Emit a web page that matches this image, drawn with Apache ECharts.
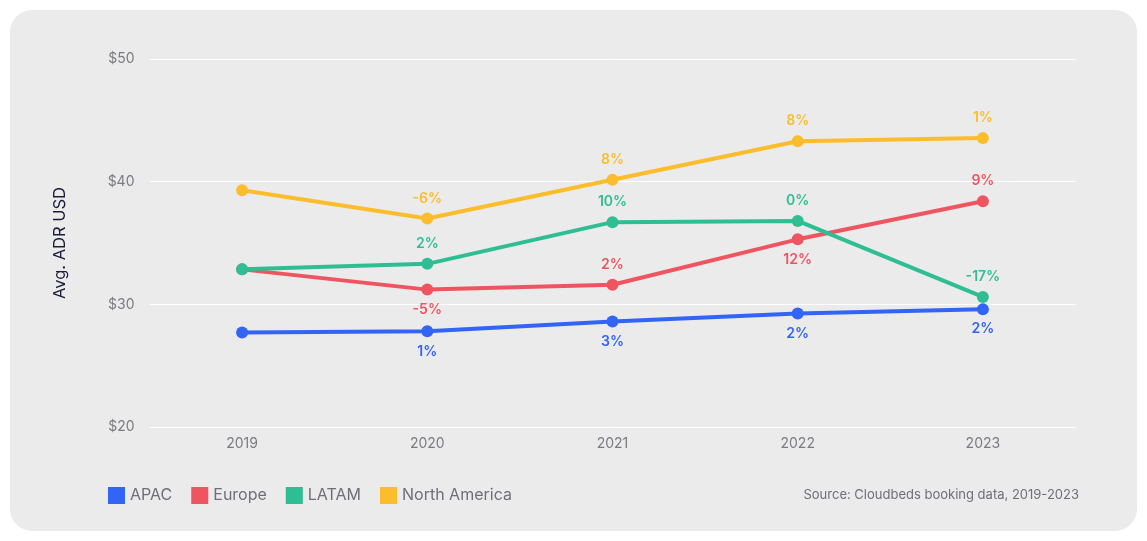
<!DOCTYPE html>
<html><head><meta charset="utf-8">
<script src="https://cdn.jsdelivr.net/npm/echarts@6/dist/echarts.min.js"></script>
<style>
html,body{margin:0;padding:0;background:#fff;}
#card{position:absolute;left:10px;top:10px;width:1127px;height:521px;background:#ebebeb;border-radius:22px;}
#chart{position:absolute;left:0;top:0;width:1147px;height:541px;}
</style></head>
<body>
<div id="card"></div>
<div id="chart"></div>
<script>
const categories = ['2019','2020','2021','2022','2023'];
const apac = [27.7, 27.8, 28.6, 29.25, 29.6];
const europe = [32.85, 31.2, 31.6, 35.3, 38.4];
const latam = [32.85, 33.3, 36.7, 36.8, 30.6];
const northAmerica = [39.3, 37.0, 40.15, 43.3, 43.55];
const apacPct = ['', '1%', '3%', '2%', '2%'];
const europePct = ['', '-5%', '2%', '12%', '9%'];
const latamPct = ['', '2%', '10%', '0%', '-17%'];
const naPct = ['', '-6%', '8%', '8%', '1%'];
const yTicks = [20, 30, 40, 50];

const FONT = 'Inter, "Open Sans", sans-serif';
const colors = {APAC:'#3264f6', Europe:'#ef5560', LATAM:'#2fbe93', 'North America':'#fbbd2b'};

function mk(name, vals, pcts, positions){
  return {
    name, type:'line', data: vals.map((v,i)=>({
      value:v,
      label:{show: pcts[i] !== '', formatter: pcts[i], position: positions[i]}
    })),
    symbol:'circle', symbolSize:12,
    lineStyle:{width:4, color:colors[name]},
    itemStyle:{color:colors[name]},
    label:{color:colors[name], fontFamily:FONT, fontWeight:600, fontSize:14, distance:7},
    emphasis:{disabled:true}
  };
}

const chart = echarts.init(document.getElementById('chart'));
chart.setOption({
  backgroundColor:'transparent',
  animation:false,
  grid:{left:149.5, right:71.5, top:59, bottom:114},
  legend:{
    data:['APAC','Europe','LATAM','North America'],
    left:103, top:482, icon:'rect', itemWidth:17, itemHeight:17, itemGap:19,
    textStyle:{color:'#6f6f78', fontFamily:FONT, fontSize:16}
  },
  graphic:[{type:'text', right:68, top:489, style:{text:'Source: Cloudbeds booking data, 2019-2023', fill:'#6f6f78', font:'13px '+FONT}}],
  xAxis:{
    type:'category', data:categories, boundaryGap:true,
    axisLine:{show:false}, axisTick:{show:false},
    axisLabel:{color:'#7a7a82', fontFamily:FONT, fontSize:14, margin:10}
  },
  yAxis:{
    type:'value', min:yTicks[0], max:yTicks[yTicks.length-1], interval:10,
    name:'Avg. ADR USD', nameLocation:'middle', nameGap:81, nameRotate:90,
    nameTextStyle:{color:'#1b1b3a', fontFamily:FONT, fontSize:16.5},
    axisLine:{show:false}, axisTick:{show:false},
    axisLabel:{color:'#7a7a82', fontFamily:FONT, fontSize:14, margin:15, formatter:v=>'$'+v},
    splitLine:{lineStyle:{color:'#ffffff', width:1}}
  },
  series:[
    mk('North America', northAmerica, naPct, ['top','top','top','top','top']),
    mk('Europe', europe, europePct, ['top','bottom','top','bottom','top']),
    mk('LATAM', latam, latamPct, ['top','top','top','top','top']),
    mk('APAC', apac, apacPct, ['bottom','bottom','bottom','bottom','bottom'])
  ]
});
</script>
</body></html>
